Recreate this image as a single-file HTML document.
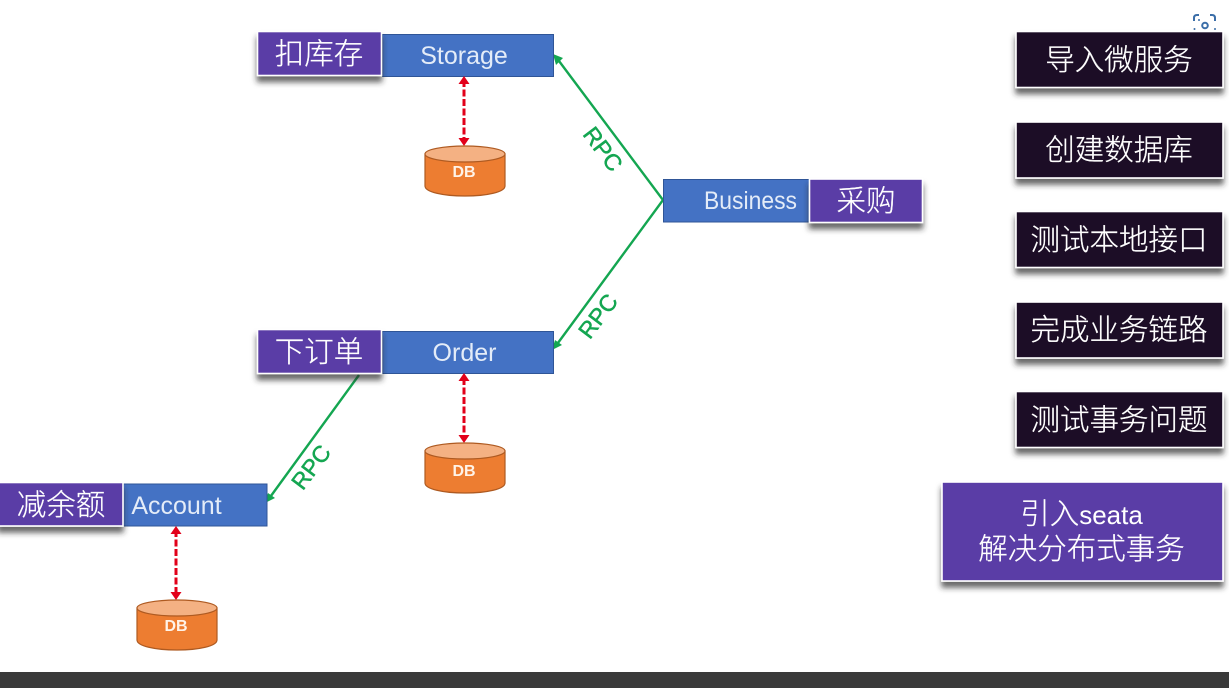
<!DOCTYPE html>
<html><head><meta charset="utf-8">
<style>
html,body{margin:0;padding:0;background:#fff;width:1229px;height:688px;overflow:hidden}
svg{display:block;filter:blur(.3px)}
text{font-family:"Liberation Sans","Noto Sans CJK SC",sans-serif}
.c{font-size:29.5px;fill:#fff;stroke:#fff;stroke-width:.25;text-anchor:middle;font-family:"Noto Sans CJK SC",sans-serif;font-weight:300}
.s{font-family:"Liberation Sans","Noto Sans CJK SC",sans-serif;stroke-width:0}
.e{font-size:25px;fill:#e4ecf8;text-anchor:middle}
.r{font-size:23px;fill:#14a651;stroke:#14a651;stroke-width:.5;text-anchor:middle}
.d{font-size:16px;fill:#fff3e8;text-anchor:middle;font-weight:bold}
.b{fill:#4472c4;stroke:#2f5597;stroke-width:1}
.p{fill:#5a3ea6;stroke:#fff;stroke-width:1.6;filter:url(#sh)}
.k{fill:#1f1128;stroke:#fff;stroke-width:1.6;filter:url(#sh)}
.g{stroke:#14a651;stroke-width:2.4;fill:none}
.dash{stroke:#e2001a;stroke-width:3;stroke-dasharray:7 2.5;fill:none}
</style></head>
<body>
<svg width="1229" height="688" viewBox="0 0 1229 688" xmlns="http://www.w3.org/2000/svg">
<defs>
<filter id="sh" x="-15%" y="-25%" width="130%" height="170%">
<feDropShadow dx="0" dy="6" stdDeviation="3" flood-color="#2a2a2a" flood-opacity=".7"/>
</filter>
<g id="db">
<path d="M1 9 V41 C1 47 19 51 41 51 C63 51 81 47 81 41 V9 Z" fill="#ed7d31" stroke="#ae5a21" stroke-width="1.2"/>
<ellipse cx="41" cy="9" rx="40" ry="8" fill="#f4b183" stroke="#ae5a21" stroke-width="1.2"/>
</g>
<g id="arrowU"><polygon points="0,-5 -5.5,3 5.500,3" fill="#e2001a"/></g>
<g id="arrowD"><polygon points="0,5 -5.500,-3 5.500,-3" fill="#e2001a"/></g>
</defs>

<rect x="0" y="672" width="1229" height="16" fill="#3a3a3a"/>

<!-- connectors -->
<path class="g" d="M556 57 L663 200 L555 347"/>
<path class="g" d="M359 375 L268 500"/>
<polygon points="553,54 563,58 556,65" fill="#14a651"/>
<polygon points="552,350 555,340 562,345" fill="#14a651"/>
<polygon points="265,503 268,493 275,498" fill="#14a651"/>

<text class="r" transform="translate(603 149) rotate(53)" x="0" y="8">RPC</text>
<text class="r" transform="translate(598 316) rotate(-53)" x="0" y="8">RPC</text>
<text class="r" transform="translate(311 467) rotate(-53)" x="0" y="8">RPC</text>

<!-- blue nodes -->
<rect class="b" x="382.5" y="34.5" width="171" height="42"/>
<rect class="b" x="663.5" y="179.5" width="146" height="42.5"/>
<rect class="b" x="382.5" y="331.5" width="171" height="42"/>
<rect class="b" x="123.5" y="484" width="143.500" height="42"/>
<text class="e" x="464" y="64">Storage</text>
<text class="e" x="750.500" y="209" textLength="93" lengthAdjust="spacingAndGlyphs">Business</text>
<text class="e" x="464.500" y="361">Order</text>
<text class="e" x="176.500" y="514">Account</text>

<!-- purple labels -->
<rect class="p" x="257.500" y="31.500" width="124" height="44"/>
<text class="c" x="319" y="64">扣库存</text>
<rect class="p" x="809.500" y="179" width="113" height="43.500"/>
<text class="c" x="866" y="211">采购</text>
<rect class="p" x="257.500" y="329.500" width="124" height="44"/>
<text class="c" x="319" y="362">下订单</text>
<rect class="p" x="-2" y="482.500" width="125" height="43.500"/>
<text class="c" x="61" y="515">减余额</text>

<!-- DB links -->
<line class="dash" x1="464" y1="80" x2="464" y2="141"/>
<use href="#arrowU" x="464" y="81"/><use href="#arrowD" x="464" y="141"/>
<line class="dash" x1="464" y1="378" x2="464" y2="438"/>
<use href="#arrowU" x="464" y="378"/><use href="#arrowD" x="464" y="438"/>
<line class="dash" x1="176" y1="530" x2="176" y2="595"/>
<use href="#arrowU" x="176" y="531"/><use href="#arrowD" x="176" y="595"/>

<!-- DBs -->
<use href="#db" x="424" y="145"/>
<use href="#db" x="424" y="442"/>
<use href="#db" x="136" y="599"/>
<text class="d" x="464" y="177">DB</text>
<text class="d" x="464" y="476">DB</text>
<text class="d" x="176" y="631">DB</text>

<!-- scan icon -->
<g fill="none" stroke="#3b6ea8" stroke-width="2">
<path d="M1194 21 V18 Q1194 15 1197 15 H1199 M1210 15 H1212 Q1215 15 1215 18 V21"/>
<circle cx="1205" cy="25.500" r="2.800"/>
</g>
<circle cx="1199" cy="20" r="1" fill="#3b6ea8"/>
<circle cx="1194.500" cy="29" r="1" fill="#3b6ea8"/>
<circle cx="1215" cy="29" r="1" fill="#3b6ea8"/>

<!-- right stack -->
<rect class="k" x="1016" y="31.500" width="207" height="56"/>
<text class="c" x="1119" y="70">导入微服务</text>
<rect class="k" x="1016" y="122" width="207" height="56"/>
<text class="c" x="1119" y="160">创建数据库</text>
<rect class="k" x="1016" y="211.500" width="207" height="56"/>
<text class="c" x="1119" y="250">测试本地接口</text>
<rect class="k" x="1016" y="302" width="207" height="56"/>
<text class="c" x="1119" y="340">完成业务链路</text>
<rect class="k" x="1016" y="391.500" width="207" height="56"/>
<text class="c" x="1119" y="430">测试事务问题</text>
<rect class="p" x="942" y="482" width="281" height="99"/>
<text class="c" x="1081.500" y="524">引入<tspan font-size="26" class="s">seata</tspan></text>
<text class="c" x="1081.500" y="559">解决分布式事务</text>
</svg>
</body></html>
